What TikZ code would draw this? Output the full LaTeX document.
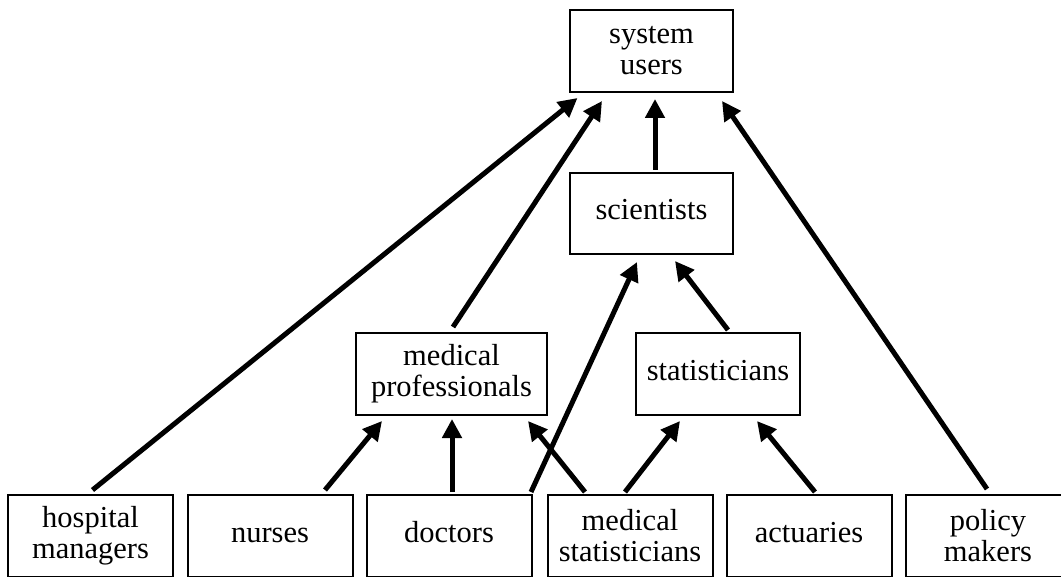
\documentclass[tikz,border=0pt]{standalone}
\usepackage{fontspec}
\setmainfont{Liberation Serif}
\usepackage{tikz}
\usetikzlibrary{arrows.meta}
\tikzstyle{box_group} = [rectangle, draw, line width=2pt, inner sep=0pt, align=center, font=\fontsize{30.5}{31}\selectfont]
\tikzstyle{box_single} = [text height=20pt, text depth=7pt]
\tikzstyle{box_user} = [box_group, minimum width=165pt, minimum height=82pt]
\tikzstyle{edge_arrow} = [line width=5pt, -{Triangle[length=19pt,width=19pt]}]

\begin{document}
\begin{tikzpicture}[x=1pt,y=-1pt]
		\useasboundingbox (0,0) rectangle (1061,577);
		\clip (0,0) rectangle (1061,577);
		\node (SU) at (651.5,51) [box_group, minimum width=163pt, minimum height=82pt] {system\\users};
		\node (SC) at (651.5,213.5) [box_group, box_single, minimum width=163pt, minimum height=81pt] {scientists};
		\node (MP) at (451.5,374) [box_group, minimum width=191pt, minimum height=82pt] {medical\\professionals};
		\node (ST) at (718,374) [box_group, box_single, minimum width=164pt, minimum height=82pt] {statisticians};
		\node (HM) at (90.5,536) [box_user] {hospital\\managers};
		\node (NU) at (270,536) [box_user, box_single] {nurses};
		\node (DO) at (449,536) [box_user, box_single] {doctors};
		\node (MS) at (630,536) [box_user] {medical\\statisticians};
		\node (AC) at (809,536) [box_user, box_single] {actuaries};
		\node (PM) at (988,536) [box_user] {policy\\makers};
		
		\draw[edge_arrow] ([xshift=2pt,yshift=4pt]HM.north) -- ([xshift=-74pt,yshift=-5pt]SU.south);
		\draw[edge_arrow] ([xshift=1.5pt,yshift=5pt]MP.north) -- ([xshift=-49.5pt,yshift=-8pt]SU.south);
		\draw[edge_arrow] ([xshift=3.5pt,yshift=2pt]SC.north) -- ([xshift=3.5pt,yshift=-6pt]SU.south);
		\draw[edge_arrow] ([xshift=-1pt,yshift=5pt]PM.north) -- ([xshift=70.5pt,yshift=-8pt]SU.south);
		\draw[edge_arrow] ([xshift=-1.5pt,yshift=2pt]DO.north east) -- ([xshift=-14.5pt,yshift=-7pt]SC.south);
		\draw[edge_arrow] ([xshift=10pt,yshift=2pt]ST.north) -- ([xshift=23.5pt,yshift=-6pt]SC.south);
		\draw[edge_arrow] ([xshift=55pt,yshift=4pt]NU.north) -- ([xshift=-69.5pt,yshift=-5pt]MP.south);
		\draw[edge_arrow] ([xshift=3pt,yshift=2pt]DO.north) -- ([xshift=0.5pt,yshift=-3pt]MP.south);
		\draw[edge_arrow] ([xshift=-45pt,yshift=2pt]MS.north) -- ([xshift=76.5pt,yshift=-5pt]MP.south);
		\draw[edge_arrow] ([xshift=-5pt,yshift=2pt]MS.north) -- ([xshift=-38pt,yshift=-5pt]ST.south);
		\draw[edge_arrow] ([xshift=6pt,yshift=2pt]AC.north) -- ([xshift=39pt,yshift=-5pt]ST.south);
\end{tikzpicture}
\end{document}
